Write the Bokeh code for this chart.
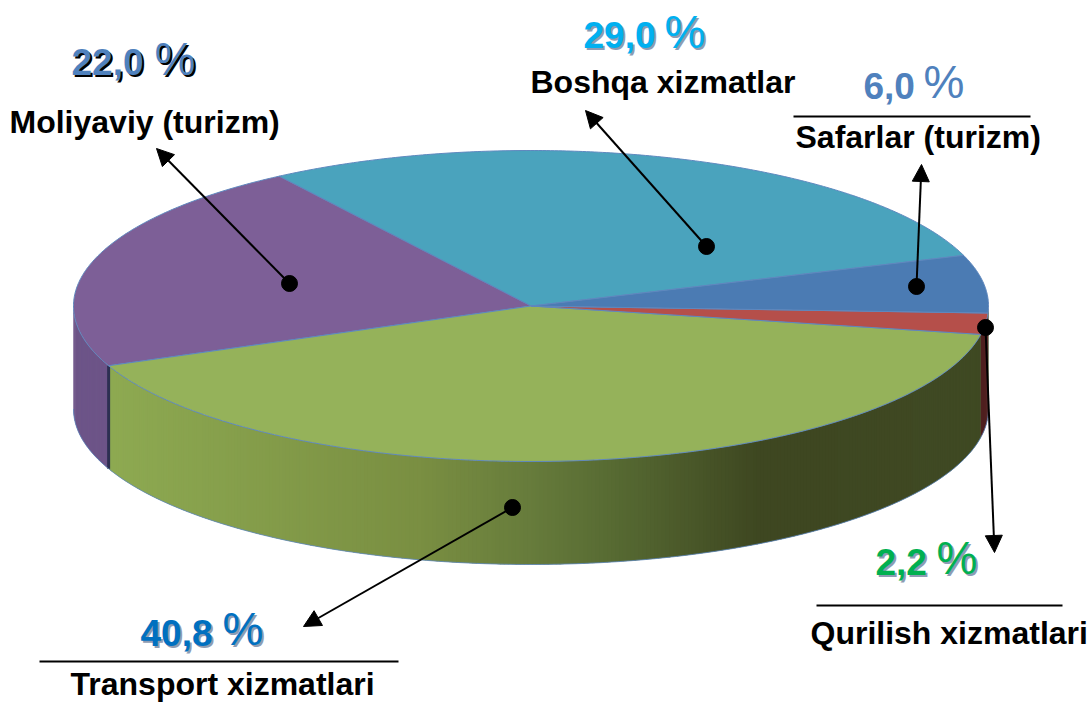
import numpy as np
from bokeh.core.properties import value
from bokeh.embed import file_html
from bokeh.models import Arrow, NormalHead, Range1d
from bokeh.plotting import figure
from bokeh.resources import INLINE

# --- data -------------------------------------------------------------
categories = ["Boshqa xizmatlar", "Moliyaviy (turizm)", "Transport xizmatlari",
              "Qurilish xizmatlari", "Safarlar (turizm)"]
shares = [29.0, 22.0, 40.8, 2.2, 6.0]
share_labels = ["29,0", "22,0", "40,8", "2,2", "6,0"]

# --- style and layout -------------------------------------------------
top_colors = ["#4AA3BD", "#7D5F97", "#95B25A", "#B54F4A", "#4B7BB3"]
side_colors = [None, "#6D5488", None, "#4F1F1F", None]
edge = "#5F88BE"
value_colors = ["#00B0F0", "#4F81BD", "#0070C0", "#00B050", "#4F81BD"]
shadow_colors = ["#8E9CB3", "#000000", "#8E9CB3", "#8E9CB3", None]
name_xy = [(530, 81), (9, 121), (70, 683), (810, 632), (795, 136)]
value_xy = [(583, 34), (71, 61), (140, 632), (875, 561), (863, 85)]
pct_xy = [(664, 31), (154, 58), (222, 628), (936, 557), (923, 81)]
dots = [(706, 246), (289, 283), (512, 507), (985, 327), (916, 286)]
tips = [(585, 110), (156, 148), (303, 626), (994, 552), (921, 164)]
rules = [(793, 1030, 116), (816, 1062, 605), (39, 398, 661)]

CX, CY, RX, RY, DEPTH = 530.5, 305.5, 457.5, 155.5, 103
START = 19.0
grad_x = [110, 420, 530, 620, 760, 990]
grad_rgb = np.array([[142, 170, 82], [122, 143, 66], [103, 124, 60],
                     [86, 105, 50], [62, 71, 33], [64, 74, 36]], float)


def ex(t):
    return CX + RX * np.cos(np.radians(t))


def ey(t, dz=0.0):
    return CY - RY * np.sin(np.radians(t)) + dz


p = figure(width=1090, height=702, x_range=Range1d(0, 1090), y_range=Range1d(702, 0),
           toolbar_location=None, output_backend="svg", min_border=0)
p.axis.visible = False
p.grid.visible = False
p.outline_line_color = None
p.background_fill_color = "white"

ends = START + np.cumsum(shares) * 3.6
starts = np.r_[START, ends[:-1]]

# --- rim (front half only) --------------------------------------------
rim_xs, rim_ys, rim_cols = [], [], []
for a0, a1, col in zip(starts, ends, side_colors):
    lo, hi = max(a0, 180.0), min(a1, 360.0)
    if hi <= lo:
        continue
    edges = np.arange(lo, hi, 0.5).tolist() + [hi]
    for t0, t1 in zip(edges[:-1], edges[1:]):
        tt = np.linspace(t0, min(t1 + 0.6, hi), 3)
        rim_xs.append(np.r_[ex(tt), ex(tt[::-1])].tolist())
        rim_ys.append(np.r_[ey(tt), ey(tt[::-1], DEPTH)].tolist())
        if col is None:
            xm = ex((t0 + t1) / 2)
            rgb = [np.interp(xm, grad_x, grad_rgb[:, k]) for k in range(3)]
            rim_cols.append("#%02X%02X%02X" % tuple(int(v) for v in rgb))
        else:
            rim_cols.append(col)
p.patches(rim_xs, rim_ys, fill_color=rim_cols, line_color=None)

# dark cut face between the purple and the green rim
cut = ends[1]
p.segment([ex(cut)], [ey(cut)], [ex(cut)], [ey(cut, DEPTH)], line_color="#2D2F52", line_width=3)

# rim lower edge
front = np.linspace(180, 360, 240)
p.line(ex(front), ey(front, DEPTH), line_color=edge, line_width=1, line_alpha=0.8)

# --- top face ---------------------------------------------------------
top_xs, top_ys = [], []
for a0, a1 in zip(starts, ends):
    tt = np.linspace(a0, a1, max(int(a1 - a0) * 2, 6))
    top_xs.append(np.r_[CX, ex(tt)].tolist())
    top_ys.append(np.r_[CY, ey(tt)].tolist())
p.patches(top_xs, top_ys, fill_color=top_colors, line_color=edge, line_width=1)

# --- callouts ---------------------------------------------------------
head = dict(size=17, fill_color="black", line_color="black")
for (x0, y0), (x1, y1) in zip(dots, tips):
    p.add_layout(Arrow(end=NormalHead(**head), x_start=x0, y_start=y0, x_end=x1, y_end=y1,
                       line_color="black", line_width=2))
p.scatter([d[0] for d in dots], [d[1] for d in dots], size=16, color="black")
p.segment([r[0] for r in rules], [r[2] for r in rules], [r[1] for r in rules], [r[2] for r in rules],
          line_color="black", line_width=2)

# --- texts ------------------------------------------------------------
FONT = value("Liberation Sans")
for name, (x, y) in zip(categories, name_xy):
    p.text([x], [y], text=[name], text_font=FONT, text_font_size="32px", text_font_style="bold",
           text_color="black", text_align="left", text_baseline="alphabetic")

for lab, col, sh, (x, y), (px, py) in zip(share_labels, value_colors, shadow_colors, value_xy, pct_xy):
    if sh is not None:
        p.text([x + 2], [y + 2], text=[lab], text_font=FONT, text_font_size="37px", text_font_style="bold",
               text_color=sh, text_align="left", text_baseline="alphabetic")
        p.text([px + 2], [py + 2], text=["%"], text_font=FONT, text_font_size="46px", text_color=sh,
               text_align="left", text_baseline="alphabetic")
    p.text([x], [y], text=[lab], text_font=FONT, text_font_size="37px", text_font_style="bold",
           text_color=col, text_align="left", text_baseline="alphabetic")
    p.text([px], [py], text=["%"], text_font=FONT, text_font_size="46px", text_color=col,
           text_align="left", text_baseline="alphabetic")

open("out.html", "w").write(file_html(p, INLINE))
